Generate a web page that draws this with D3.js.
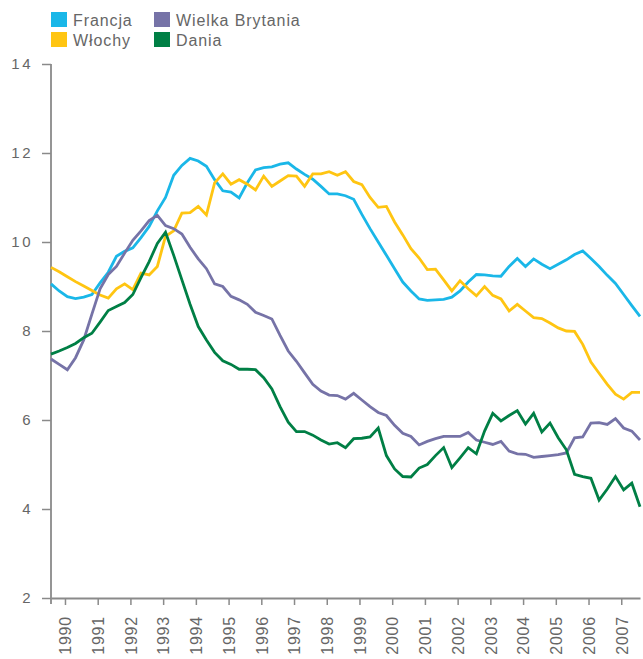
<!DOCTYPE html>
<html>
<head>
<meta charset="utf-8">
<script src="https://cdn.jsdelivr.net/npm/d3@7"></script>
<style>
  body { margin: 0; background: #fff; }
  text { font-family: "Liberation Sans", Arial, sans-serif; fill: #666; }
</style>
</head>
<body>
<div id="chart"></div>
<script>
// lata na osi X i wartości na osi Y
const years = [1990, 1991, 1992, 1993, 1994, 1995, 1996, 1997, 1998, 1999,
               2000, 2001, 2002, 2003, 2004, 2005, 2006, 2007];
const yTicks = [2, 4, 6, 8, 10, 12, 14];

// dane kwartalne, pierwszy punkt tuż przed 1990
const firstQuarter = 1989.573;

const francja = [9.06, 8.9, 8.77, 8.73, 8.76, 8.82, 9.08, 9.32, 9.68, 9.79,
  9.87, 10.1, 10.35, 10.7, 11.0, 11.5, 11.72, 11.88, 11.82, 11.7,
  11.4, 11.15, 11.12, 10.99, 11.33, 11.62, 11.67, 11.69, 11.75, 11.78,
  11.64, 11.52, 11.41, 11.25, 11.08, 11.08, 11.04, 10.96, 10.62, 10.3,
  10.0, 9.7, 9.4, 9.1, 8.9, 8.72, 8.69, 8.7, 8.71, 8.76,
  8.9, 9.1, 9.27, 9.26, 9.24, 9.23, 9.45, 9.63, 9.45, 9.62,
  9.5, 9.4, 9.5, 9.6, 9.72, 9.8, 9.63, 9.45, 9.25, 9.07,
  8.82, 8.57, 8.33];

const wlochy = [9.43, 9.33, 9.22, 9.11, 9.01, 8.91, 8.81, 8.74, 8.95, 9.06,
  8.93, 9.3, 9.26, 9.45, 10.13, 10.25, 10.65, 10.66, 10.8, 10.61,
  11.33, 11.53, 11.3, 11.4, 11.3, 11.17, 11.48, 11.25, 11.37, 11.49,
  11.48, 11.25, 11.53, 11.53, 11.58, 11.5, 11.58, 11.36, 11.29, 11.0,
  10.78, 10.8, 10.45, 10.16, 9.85, 9.64, 9.38, 9.39, 9.15, 8.9,
  9.13, 8.95, 8.79, 9.0, 8.8, 8.72, 8.45, 8.6, 8.45, 8.3,
  8.28, 8.18, 8.07, 8.0, 7.99, 7.7, 7.3, 7.05, 6.8, 6.58,
  6.47, 6.62, 6.62];

const wielkaBrytania = [7.37, 7.25, 7.13, 7.4, 7.8, 8.38, 8.95, 9.27, 9.45, 9.75,
  10.04, 10.25, 10.48, 10.6, 10.37, 10.3, 10.18, 9.88, 9.62, 9.4,
  9.06, 9.0, 8.78, 8.7, 8.6, 8.42, 8.35, 8.27, 7.9, 7.55,
  7.32, 7.06, 6.8, 6.65, 6.56, 6.55, 6.47, 6.6, 6.45, 6.3,
  6.17, 6.1, 5.88, 5.7, 5.63, 5.44, 5.52, 5.58, 5.63, 5.63,
  5.63, 5.72, 5.55, 5.5, 5.45, 5.52, 5.3, 5.24, 5.23, 5.16,
  5.18, 5.2, 5.22, 5.26, 5.6, 5.62, 5.93, 5.94, 5.9, 6.03,
  5.82, 5.75, 5.55];

const dania = [7.48, 7.55, 7.63, 7.72, 7.85, 7.95, 8.2, 8.46, 8.55, 8.64,
  8.82, 9.2, 9.56, 9.97, 10.22, 9.7, 9.15, 8.6, 8.1, 7.8,
  7.52, 7.33, 7.25, 7.14, 7.14, 7.13, 6.95, 6.7, 6.3, 5.95,
  5.74, 5.74, 5.66, 5.55, 5.46, 5.49, 5.38, 5.58, 5.59, 5.62,
  5.82, 5.2, 4.9, 4.73, 4.72, 4.92, 5.0, 5.2, 5.38, 4.93,
  5.15, 5.38, 5.24, 5.75, 6.15, 5.98, 6.1, 6.21, 5.91, 6.15,
  5.73, 5.93, 5.6, 5.33, 4.78, 4.73, 4.69, 4.2, 4.45, 4.73,
  4.43, 4.58, 4.05];

const seriesNames = ["Francja", "Włochy", "Wielka Brytania", "Dania"];
const seriesColors = ["#1ab7e8", "#ffc512", "#7673a7", "#007f45"];
const seriesValues = [francja, wlochy, wielkaBrytania, dania];

// rozmiar
const width = 643;
const height = 659;
const plot = {left: 51, right: 640, top: 64, bottom: 598};

const svg = d3.select("#chart").append("svg")
    .attr("width", width)
    .attr("height", height);

const xScale = d3.scaleLinear()
    .domain([firstQuarter, firstQuarter + 72 * 0.25])
    .range([plot.left, plot.right]);

const yScale = d3.scaleLinear()
    .domain([2, 14])
    .range([plot.bottom, plot.top]);

const axisColor = "#8a8a8a";

// oś Y
const yAxis = d3.axisLeft(yScale)
    .tickValues(yTicks)
    .tickSize(9)
    .tickSizeOuter(0)
    .tickPadding(9)
    .tickFormat(d3.format("d"));

const gy = svg.append("g")
    .attr("transform", `translate(${plot.left},0)`)
    .call(yAxis);
gy.select(".domain").remove();
gy.selectAll(".tick line").attr("stroke", axisColor).attr("stroke-width", 1.5);
gy.selectAll(".tick text")
    .style("font-size", "15px")
    .style("letter-spacing", "2.5px")
    .attr("fill", "#666");

// linia osi Y (lekko poniżej osi X)
svg.append("line")
    .attr("x1", plot.left).attr("x2", plot.left)
    .attr("y1", yScale(14)).attr("y2", yScale(2) + 6)
    .attr("stroke", axisColor)
    .attr("stroke-width", 1.8);

// oś X
const xAxis = d3.axisBottom(xScale)
    .tickValues(years)
    .tickSize(7)
    .tickSizeOuter(0)
    .tickFormat(d => d);

const gx = svg.append("g")
    .attr("transform", `translate(0,${plot.bottom})`)
    .call(xAxis);
gx.select(".domain").attr("stroke", axisColor).attr("stroke-width", 1.8);
gx.selectAll(".tick line").attr("stroke", axisColor).attr("stroke-width", 1.5);
gx.selectAll(".tick text")
    .attr("transform", "rotate(-90)")
    .attr("text-anchor", "end")
    .attr("x", -18)
    .attr("y", 0)
    .attr("dy", "0.36em")
    .attr("fill", "#666")
    .style("font-size", "16px")
    .style("letter-spacing", "0.8px");

// linie
const line = d3.line()
    .x((d, i) => xScale(firstQuarter + i * 0.25))
    .y(d => yScale(d));

seriesValues.forEach((values, k) => {
    svg.append("path")
        .datum(values)
        .attr("d", line)
        .attr("fill", "none")
        .attr("stroke", seriesColors[k])
        .attr("stroke-width", 2.8)
        .attr("stroke-linejoin", "miter");
});

// legenda
const legend = svg.append("g").attr("class", "legend");
seriesNames.forEach((name, k) => {
    const col = Math.floor(k / 2);
    const row = k % 2;
    const g = legend.append("g")
        .attr("transform", `translate(${51 + col * 103},${12 + row * 20})`);
    g.append("rect")
        .attr("width", 16)
        .attr("height", 15)
        .attr("fill", seriesColors[k]);
    g.append("text")
        .attr("x", 22)
        .attr("y", 13.5)
        .style("font-size", "16px")
        .style("letter-spacing", "0.9px")
        .attr("fill", "#666")
        .text(name);
});
</script>
</body>
</html>
